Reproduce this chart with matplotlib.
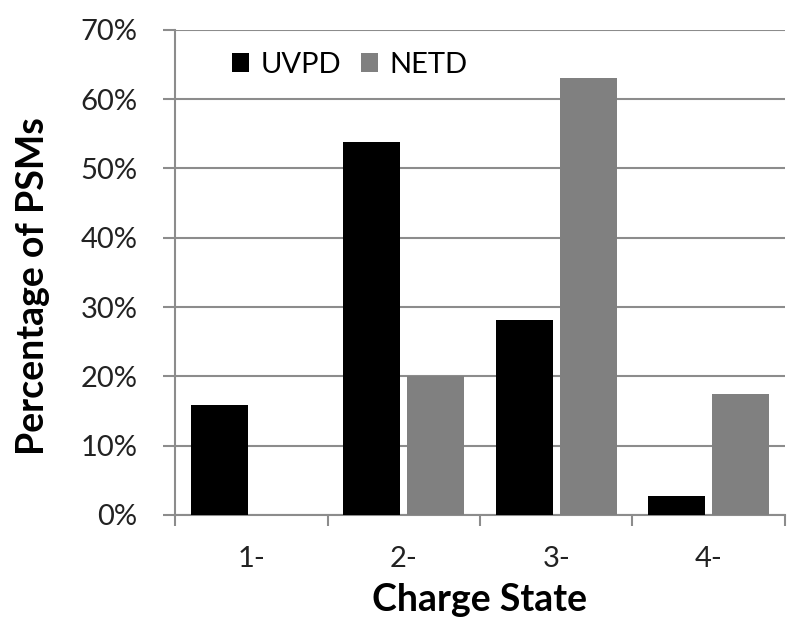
import matplotlib
matplotlib.use("Agg")
import matplotlib.pyplot as plt
import numpy as np
from matplotlib.ticker import FixedLocator, PercentFormatter

categories = ["1-", "2-", "3-", "4-"]
uvpd = [15.8, 53.8, 28.2, 2.8]
netd = [0.0, 20.1, 63.1, 17.5]
yticks = [0, 10, 20, 30, 40, 50, 60, 70]

plt.rcParams['font.family'] = ['Lato', 'DejaVu Sans']

fig = plt.figure(figsize=(8, 6.35), dpi=100)
ax = fig.add_axes([0.219, 0.189, 0.762, 0.764])

x = np.arange(len(categories))
w = 0.375
off = 0.21
ax.bar(x - off, uvpd, width=w, color="#000000", label="UVPD", zorder=3)
ax.bar(x + off, netd, width=w, color="#808080", label="NETD", zorder=3)

ax.set_xlim(-0.5, len(categories) - 0.5)
ax.set_ylim(0, 70)
ax.set_yticks(yticks)
ax.yaxis.set_major_formatter(PercentFormatter(decimals=0))
ax.yaxis.grid(True, color="#8c8c8c", linewidth=1.5, zorder=0)
ax.set_axisbelow(True)

ax.set_xticks(x)
ax.set_xticklabels(categories)
ax.xaxis.set_minor_locator(FixedLocator(np.arange(-0.5, len(categories), 1.0)))
ax.tick_params(axis='x', which='major', length=0, labelsize=21, pad=22, colors="#222222")
ax.tick_params(axis='x', which='minor', length=8, width=1.5, color="#8c8c8c")
ax.tick_params(axis='y', which='major', direction='out', length=9, width=1.5, color="#8c8c8c",
               labelsize=21, labelcolor="#222222", pad=18)

for s in ["top", "right"]:
    ax.spines[s].set_visible(False)
for s in ["left", "bottom"]:
    ax.spines[s].set_color("#8c8c8c")
    ax.spines[s].set_linewidth(1.5)

ax.set_xlabel("Charge State", fontsize=27, fontweight="bold", labelpad=8)
ax.set_ylabel("Percentage of PSMs", fontsize=27, fontweight="bold")
ax.yaxis.set_label_coords(-0.205, 0.472)

leg = ax.legend(loc="center left", bbox_to_anchor=(0.093, 0.928), ncol=2, frameon=False,
                fontsize=21, borderpad=0, borderaxespad=0, handlelength=0.6, handleheight=0.6,
                handletextpad=0.4, columnspacing=0.65)

fig.savefig("out.png", dpi=100)
